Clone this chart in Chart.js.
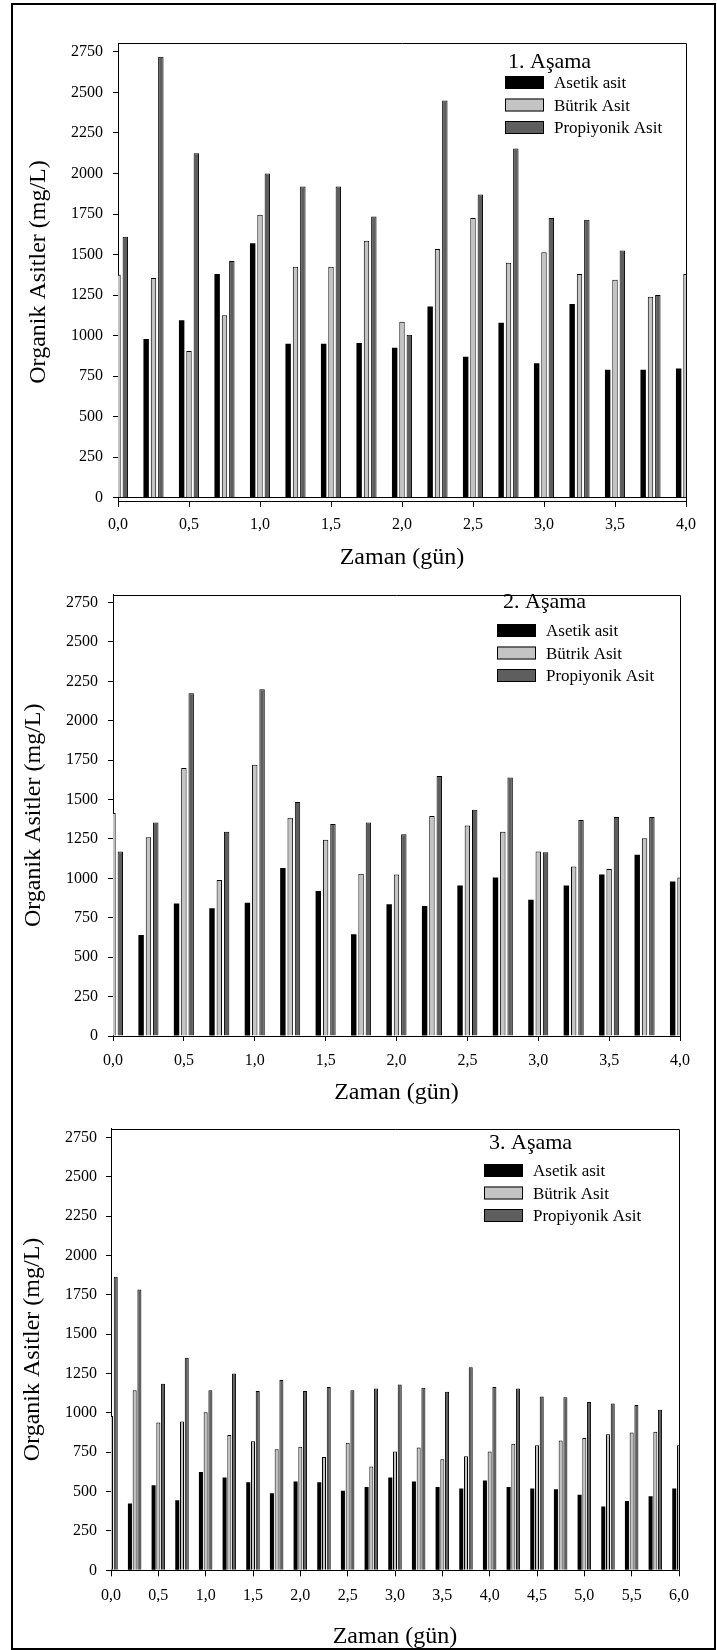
<!DOCTYPE html>
<html>
<head>
<meta charset="utf-8">
<script src="https://cdn.jsdelivr.net/npm/chart.js@4.4.1/dist/chart.umd.min.js"></script>
<style>
html,body{margin:0;padding:0;background:#fff;overflow:hidden;}
body{width:717px;height:1650px;position:relative;}
.outer{position:absolute;left:11px;top:3px;width:705px;height:1647px;border:2px solid #000;box-sizing:border-box;}
.wrap{position:absolute;left:0;width:717px;}
canvas{display:block;}
</style>
</head>
<body>
<div class="outer"></div>
<div class="wrap" style="top:0px;height:575px;"><canvas id="c1" width="717" height="575"></canvas></div>
<div class="wrap" style="top:575px;height:535px;"><canvas id="c2" width="717" height="535"></canvas></div>
<div class="wrap" style="top:1110px;height:542px;"><canvas id="c3" width="717" height="542"></canvas></div>
<script>
// ---------- DATA ----------
const seriesNames = ["Asetik asit", "Bütrik Asit", "Propiyonik Asit"];
const stageTitles = ["1. Aşama", "2. Aşama", "3. Aşama"];
const xTitle = "Zaman (gün)";
const yTitle = "Organik Asitler (mg/L)";

// Stage 1 & 2: time (days)
const days4 = [0, 0.25, 0.5, 0.75, 1, 1.25, 1.5, 1.75, 2, 2.25, 2.5, 2.75, 3, 3.25, 3.5, 3.75, 4];
// Stage 3: time (days)
const days6 = [0, 0.25, 0.5, 0.75, 1, 1.25, 1.5, 1.75, 2, 2.25, 2.5, 2.75, 3, 3.25, 3.5, 3.75, 4,
               4.25, 4.5, 4.75, 5, 5.25, 5.5, 5.75, 6];

// tick labels
const yTicks = [0, 250, 500, 750, 1000, 1250, 1500, 1750, 2000, 2250, 2500, 2750];
const xTicks4 = [0, 0.5, 1, 1.5, 2, 2.5, 3, 3.5, 4];
const xTicks6 = [0, 0.5, 1, 1.5, 2, 2.5, 3, 3.5, 4, 4.5, 5, 5.5, 6];

const asetik1     = [null, 980, 1095, 1380, 1570, 950, 950, 955, 925, 1180, 870, 1080, 830, 1195, 790, 790, 797];
const butrik1     = [1375, 1355, 905, 1125, 1745, 1425, 1425, 1585, 1085, 1535, 1725, 1450, 1515, 1380, 1345, 1240, 1380];
const propiyonik1 = [1610, 2720, 2125, 1460, 2000, 1920, 1920, 1735, 1005, 2450, 1870, 2155, 1725, 1715, 1525, 1250, null];

const asetik2     = [null, 640, 840, 810, 845, 1065, 920, 645, 835, 825, 955, 1005, 865, 955, 1025, 1150, 980];
const butrik2     = [1415, 1260, 1700, 990, 1720, 1385, 1245, 1030, 1025, 1395, 1335, 1295, 1170, 1075, 1060, 1255, 1005];
const propiyonik2 = [1170, 1355, 2175, 1295, 2200, 1485, 1345, 1355, 1280, 1650, 1435, 1640, 1165, 1370, 1390, 1390, null];

const asetik3     = [null, 425, 540, 445, 625, 590, 560, 490, 565, 560, 505, 530, 590, 565, 530, 520, 570,
                     530, 520, 515, 480, 405, 440, 470, 520];
const butrik3     = [980, 1145, 940, 945, 1005, 860, 820, 770, 785, 720, 810, 660, 755, 780, 705, 725, 755,
                     805, 795, 825, 840, 865, 875, 880, 795];
const propiyonik3 = [1865, 1785, 1185, 1350, 1145, 1250, 1140, 1210, 1140, 1165, 1145, 1155, 1180, 1160, 1135, 1290, 1165,
                     1155, 1105, 1100, 1070, 1060, 1050, 1020, null];

// ---------- STYLE ----------
const FONT = '"Liberation Serif", "Times New Roman", Times, serif';
const fills = ["#000000", "#c4c4c4", "#5e5e5e"];

const stageLegend = {
  id: 'stageLegend',
  afterDraw(chart, args, o) {
    const ctx = chart.ctx;
    const a = chart.chartArea;
    ctx.save();
    ctx.strokeStyle = '#000';
    ctx.lineWidth = 1;
    const t = Math.round(a.top) + 0.5, r = Math.round(a.right) + 0.5;
    ctx.beginPath();
    ctx.moveTo(a.left, t);
    ctx.lineTo(r, t);
    ctx.lineTo(r, a.bottom);
    ctx.stroke();
    ctx.fillStyle = '#000';
    ctx.textAlign = 'left';
    ctx.textBaseline = 'alphabetic';
    ctx.font = '22px ' + FONT;
    ctx.fillText(o.title, o.titleX, o.titleY);
    ctx.font = '17px ' + FONT;
    chart.data.datasets.forEach((ds, i) => {
      const y = o.boxY + i * o.rowGap;
      ctx.fillStyle = ds.backgroundColor;
      ctx.fillRect(o.boxX, y, o.boxW, o.boxH);
      ctx.strokeStyle = '#000';
      ctx.strokeRect(o.boxX + 0.5, y + 0.5, o.boxW - 1, o.boxH - 1);
      ctx.fillStyle = '#000';
      ctx.fillText(ds.label, o.textX, y + o.boxH - 1);
    });
    ctx.restore();
  }
};

function makeChart(id, days, values, xTicks, cfg) {
  const datasets = values.map((vals, i) => ({
    label: seriesNames[i],
    data: days.map((d, k) => ({x: d, y: vals[k]})),
    backgroundColor: fills[i],
    borderColor: '#000',
    borderWidth: i === 0 ? 0 : 1,
    borderSkipped: 'start',
    categoryPercentage: cfg.catPct,
    barPercentage: cfg.barPct,
    clip: 0
  }));
  return new Chart(document.getElementById(id), {
    type: 'bar',
    data: {datasets},
    plugins: [stageLegend],
    options: {
      responsive: false,
      animation: false,
      events: [],
      layout: {padding: cfg.padding},
      plugins: {
        legend: {display: false},
        tooltip: {enabled: false},
        stageLegend: cfg.legend
      },
      scales: {
        x: {
          type: 'linear',
          offset: false,
          min: xTicks[0],
          max: xTicks[xTicks.length - 1],
          grid: {offset: false, drawOnChartArea: false, color: '#000', tickColor: '#000', tickLength: cfg.xTickLen},
          border: {display: true, color: '#000', width: 1},
          afterBuildTicks: s => { s.ticks = xTicks.map(v => ({value: v})); },
          ticks: {
            autoSkip: false, maxRotation: 0, color: '#000',
            padding: cfg.xTickPad,
            font: {family: FONT, size: 16},
            callback: v => Number(v).toFixed(1).replace('.', ',')
          },
          title: {display: true, text: xTitle, color: '#000', font: {family: FONT, size: 24}, padding: {top: 0, bottom: 0}},
          afterFit: s => { s.height = cfg.xAxisH; }
        },
        y: {
          type: 'linear',
          min: cfg.yMin,
          max: cfg.yMax,
          grid: {
            drawOnChartArea: cfg.yMin < 0,
            color: c => (c.tick && c.tick.value === 0) ? '#000' : 'rgba(0,0,0,0)',
            lineWidth: 1,
            tickColor: '#000', tickLength: 5
          },
          border: {display: true, color: '#000', width: 1},
          afterBuildTicks: s => { s.ticks = yTicks.map(v => ({value: v})); },
          ticks: {
            autoSkip: false, color: '#000', padding: cfg.yTickPad, font: {family: FONT, size: 16},
            callback: v => String(v)
          },
          title: {display: true, text: yTitle, color: '#000', font: {family: FONT, size: 24}, padding: {top: cfg.yTitlePad, bottom: 0}},
          afterFit: s => { s.width = cfg.yAxisW; }
        }
      }
    }
  });
}

makeChart('c1', days4, [asetik1, butrik1, propiyonik1], xTicks4, {
  catPct: 0.62, barPct: 0.74, yMin: -20, yMax: 2805,
  padding: {top: 43, right: 31, bottom: 2.6, left: 0},
  xAxisH: 71.4, yAxisW: 118, xTickLen: 6, xTickPad: 8.4, yTickPad: 10, yTitlePad: 24.6,
  legend: {title: stageTitles[0], titleX: 508, titleY: 68, boxX: 505, boxY: 76, boxW: 39, boxH: 13, rowGap: 22.5, textX: 554}
});

makeChart('c2', days4, [asetik2, butrik2, propiyonik2], xTicks4, {
  catPct: 0.62, barPct: 0.74, yMin: 0, yMax: 2800,
  padding: {top: 8, right: 37, bottom: 2.6, left: 0},
  xAxisH: 71.4, yAxisW: 113, xTickLen: 5, xTickPad: 10.4, yTickPad: 10, yTitlePad: 19.6,
  legend: {title: stageTitles[1], titleX: 503, titleY: 33, boxX: 497, boxY: 49, boxW: 39, boxH: 13, rowGap: 22.5, textX: 546}
});

makeChart('c3', days6, [asetik3, butrik3, propiyonik3], xTicks6, {
  catPct: 0.6, barPct: 0.85, yMin: 0, yMax: 2807,
  padding: {top: 5, right: 38, bottom: 0.6, left: 0},
  xAxisH: 81.1, yAxisW: 111, xTickLen: 6, xTickPad: 10, yTickPad: 9, yTitlePad: 18.6,
  legend: {title: stageTitles[2], titleX: 489, titleY: 39, boxX: 484, boxY: 54, boxW: 39, boxH: 13, rowGap: 22.5, textX: 533}
});
</script>
</body>
</html>
